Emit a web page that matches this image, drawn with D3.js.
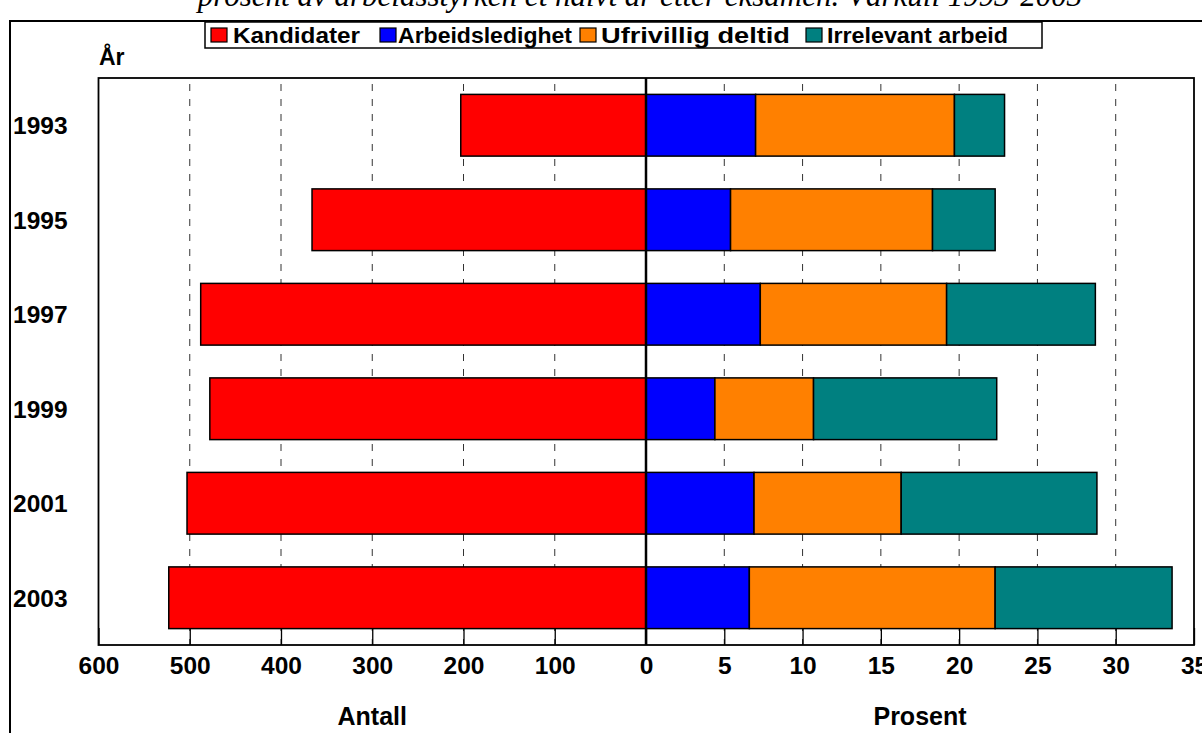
<!DOCTYPE html>
<html>
<head>
<meta charset="utf-8">
<script src="https://cdn.jsdelivr.net/npm/d3@7"></script>
<style>
  html, body { margin: 0; padding: 0; background: #fff; overflow: hidden; }
  svg { display: block; }
</style>
</head>
<body>
<svg id="chart" width="1202" height="733"></svg>
<script>
// ---- data ----
const years = ["1993", "1995", "1997", "1999", "2001", "2003"];
const kandidater = [203, 366, 488, 478, 503, 523];
const arbeidsledighet = [7.0, 5.4, 7.3, 4.4, 6.9, 6.6];
const ufrivilligDeltid = [12.7, 12.9, 11.9, 6.3, 9.4, 15.7];
const irrelevantArbeid = [3.2, 4.0, 9.5, 11.7, 12.5, 11.3];
const seriesNames = ["Kandidater", "Arbeidsledighet", "Ufrivillig deltid", "Irrelevant arbeid"];
const seriesColors = ["#ff0000", "#0000ff", "#ff8000", "#008080"];
const leftTicks = [600, 500, 400, 300, 200, 100, 0];
const rightTicks = [5, 10, 15, 20, 25, 30, 35];
const titleText = "prosent av arbeidsstyrken et halvt år etter eksamen. Vårkull 1993-2003";

// ---- layout ----
const svg = d3.select("#chart");
const plot = { left: 98.5, right: 1194, top: 78, bottom: 645 };
const zeroX = 646;
const FONT = "'Liberation Sans', Arial, sans-serif";

const xL = d3.scaleLinear().domain([600, 0]).range([plot.left, zeroX]);
const xR = d3.scaleLinear().domain([0, 35]).range([zeroX, plot.right]);
const y = d3.scaleBand().domain(years).range([plot.top, plot.bottom])
  .paddingInner(0.347).paddingOuter(0.1735);

// title (clipped at top)
const title = svg.append("text")
  .attr("x", 640).attr("y", 6)
  .attr("text-anchor", "middle")
  .attr("font-family", "'Liberation Serif', 'Times New Roman', serif")
  .attr("font-style", "italic")
  .attr("font-size", 26)
  .text(titleText);
const tl = title.node().getComputedTextLength();
title.attr("font-size", 26 * 885 / tl);

// outer border
svg.append("rect")
  .attr("x", 10).attr("y", 21).attr("width", 1210).attr("height", 760)
  .attr("fill", "none").attr("stroke", "#000").attr("stroke-width", 2);

// gridlines
const gridG = svg.append("g");
leftTicks.filter(t => t !== 0 && t !== 600).forEach(t => {
  gridG.append("line")
    .attr("x1", xL(t)).attr("x2", xL(t))
    .attr("y1", plot.top).attr("y2", plot.bottom)
    .attr("stroke", "#333").attr("stroke-width", 1)
    .attr("stroke-dasharray", "7,8").attr("stroke-dashoffset", 9);
});
rightTicks.filter(t => t !== 35).forEach(t => {
  gridG.append("line")
    .attr("x1", xR(t)).attr("x2", xR(t))
    .attr("y1", plot.top).attr("y2", plot.bottom)
    .attr("stroke", "#333").attr("stroke-width", 1)
    .attr("stroke-dasharray", "7,8").attr("stroke-dashoffset", 9);
});

// axes (ticks inward, labels below)
const axL = d3.axisBottom(xL).tickValues(leftTicks).tickSize(-17).tickPadding(12)
  .tickFormat(d3.format("d"));
const axR = d3.axisBottom(xR).tickValues(rightTicks).tickSize(-17).tickPadding(12)
  .tickFormat(d3.format("d"));
[axL, axR].forEach(ax => {
  const g = svg.append("g").attr("transform", `translate(0,${plot.bottom})`).call(ax);
  g.select(".domain").remove();
  g.selectAll(".tick line").attr("stroke", "#000").attr("stroke-width", 1.3);
  g.selectAll(".tick text").attr("fill", "#000")
    .attr("font-family", FONT).attr("font-weight", "bold").attr("font-size", 24.5);
});

// bars: left
const rows = years.map((yr, i) => ({
  year: yr, k: kandidater[i], a: arbeidsledighet[i], u: ufrivilligDeltid[i], r: irrelevantArbeid[i]
}));
svg.append("g").selectAll("rect").data(rows).join("rect")
  .attr("x", d => xL(d.k)).attr("y", d => y(d.year))
  .attr("width", d => xL(0) - xL(d.k)).attr("height", y.bandwidth())
  .attr("fill", seriesColors[0]).attr("stroke", "#000").attr("stroke-width", 1.5);

// bars: right stacked
const stack = d3.stack().keys(["a", "u", "r"])(rows);
stack.forEach((layer, li) => {
  svg.append("g").selectAll("rect").data(layer).join("rect")
    .attr("x", d => xR(d[0])).attr("y", d => y(d.data.year))
    .attr("width", d => xR(d[1]) - xR(d[0])).attr("height", y.bandwidth())
    .attr("fill", seriesColors[li + 1]).attr("stroke", "#000").attr("stroke-width", 1.5);
});

// plot frame
svg.append("rect")
  .attr("x", plot.left).attr("y", plot.top)
  .attr("width", plot.right - plot.left).attr("height", plot.bottom - plot.top)
  .attr("fill", "none").attr("stroke", "#000").attr("stroke-width", 1.8);

// center axis
svg.append("line")
  .attr("x1", zeroX).attr("x2", zeroX).attr("y1", plot.top).attr("y2", plot.bottom)
  .attr("stroke", "#000").attr("stroke-width", 2.5);

// year labels
svg.append("g").selectAll("text").data(years).join("text")
  .attr("x", 13).attr("y", d => y(d) + y.bandwidth() / 2)
  .attr("dy", "0.36em")
  .attr("font-family", FONT).attr("font-weight", "bold").attr("font-size", 24.5)
  .text(d => d);

// "År"
svg.append("text").attr("x", 99).attr("y", 65)
  .attr("font-family", FONT).attr("font-weight", "bold").attr("font-size", 23)
  .text("År");

// axis titles
svg.append("text").attr("x", (plot.left + zeroX) / 2).attr("y", 725)
  .attr("text-anchor", "middle")
  .attr("font-family", FONT).attr("font-weight", "bold").attr("font-size", 25)
  .text("Antall");
svg.append("text").attr("x", (zeroX + plot.right) / 2).attr("y", 725)
  .attr("text-anchor", "middle")
  .attr("font-family", FONT).attr("font-weight", "bold").attr("font-size", 25)
  .text("Prosent");

// legend
svg.append("rect").attr("x", 205).attr("y", 22).attr("width", 837).attr("height", 26)
  .attr("fill", "#fff").attr("stroke", "#000").attr("stroke-width", 1.5);
const legendSwatchX = [211, 380, 580, 806];
const legendTextX = [233, 398, 601, 827];
const legendTextW = [127, 174, 189, 181];
seriesNames.forEach((name, i) => {
  svg.append("rect").attr("x", legendSwatchX[i]).attr("y", 28).attr("width", 16).attr("height", 14)
    .attr("fill", seriesColors[i]).attr("stroke", "#000").attr("stroke-width", 1.2);
  svg.append("text").attr("x", legendTextX[i]).attr("y", 43)
    .attr("font-family", FONT).attr("font-weight", "bold").attr("font-size", 22.5)
    .attr("textLength", legendTextW[i]).attr("lengthAdjust", "spacingAndGlyphs")
    .text(name);
});
</script>
</body>
</html>
